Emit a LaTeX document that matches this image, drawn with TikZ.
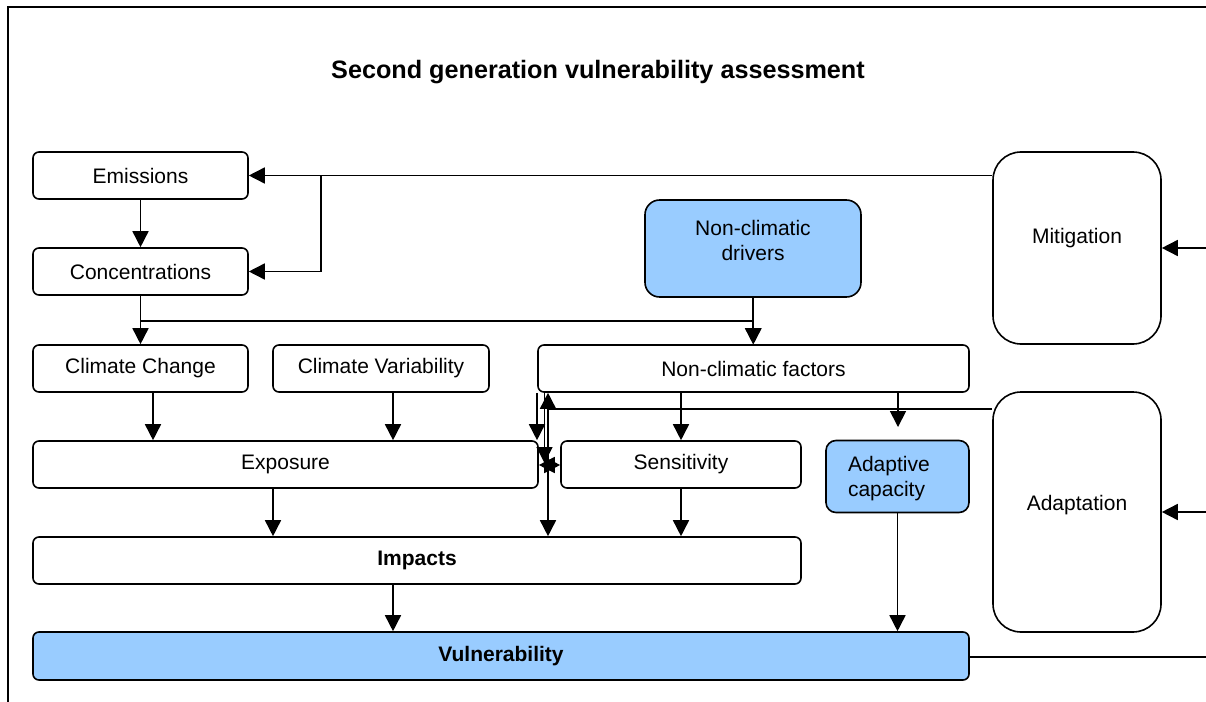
\documentclass[tikz,border=0pt]{standalone}
\usepackage{fontspec}
\setmainfont{Liberation Sans}
\usetikzlibrary{arrows.meta,calc}
\definecolor{lb}{RGB}{153,204,255}
\tikzset{
 box/.style={draw, line width=1.2pt, rounded corners=4.5pt, inner sep=0pt, font=\fontsize{15.75}{19}\selectfont, align=center},
 bluebox/.style={box, fill=lb},
 bigbox/.style={box, rounded corners=21pt},
 arr/.style={line width=1.2pt, -{Triangle[length=12pt,width=12pt]}},
 ln/.style={line width=1.2pt},
 txt/.style={font=\fontsize{15.75}{19}\selectfont, align=center, inner sep=0pt},
}
\begin{document}
\begin{tikzpicture}[x=0.75pt,y=-0.75pt]
\useasboundingbox (0,0) rectangle (1206,702);
\coordinate (fbl) at (8,702); \coordinate (ftl) at (8,7); \coordinate (ftr) at (1206,7);
\draw[ln] (fbl) -- (ftl) -- (ftr);
\node[font=\fontsize{18.9}{22}\selectfont\bfseries, inner sep=0pt] (title) at (598,72) {Second generation vulnerability assessment};

\node[box, minimum width=161.25pt, minimum height=35.25pt] (emi) at (140.5,175.5) {Emissions};
\node[box, minimum width=161.25pt, minimum height=35.25pt] (con) at (140.5,271.5) {Concentrations};
\node[box, minimum width=161.25pt, minimum height=35.25pt] (cc) at (140.5,368.5) {Climate Change};
\node[box, minimum width=162pt, minimum height=35.25pt] (cv) at (381,368.5) {Climate Variability};
\node[box, minimum width=323.25pt, minimum height=35.25pt] (ncf) at (753.5,368.5) {Non-climatic factors};
\node[bluebox, rounded corners=11pt, minimum width=162pt, minimum height=72.75pt] (ncd) at (753,248.5) {};
\node[txt] (ncdt) at ([yshift=6pt]ncd.center) {Non-climatic\\drivers};
\node[box, minimum width=378.75pt, minimum height=35.25pt] (exp) at (285.5,464.5) {Exposure};
\node[box, minimum width=180pt, minimum height=35.25pt] (sen) at (681,464.5) {Sensitivity};
\node[bluebox, rounded corners=7.5pt, minimum width=107.25pt, minimum height=54pt] (adc) at (897.5,476.5) {};
\node[txt, text width=74.25pt, align=left] (adct) at ([yshift=-1.5pt]adc.center) {Adaptive\\capacity};
\node[box, minimum width=576pt, minimum height=35.25pt, font=\fontsize{15.75}{19}\selectfont\bfseries] (imp) at (417,560.5) {Impacts};
\node[bluebox, minimum width=702pt, minimum height=36pt, font=\fontsize{15.75}{19}\selectfont\bfseries] (vul) at (501,656) {Vulnerability};
\node[bigbox, minimum width=126pt, minimum height=144pt] (mit) at (1077,248) {};
\node[txt] (mitt) at ([yshift=7.5pt]mit.center) {Mitigation};
\node[bigbox, minimum width=126pt, minimum height=180pt] (ada) at (1077,512) {};
\node[txt] (adat) at ([yshift=5pt]ada.center) {Adaptation};

% top part
\coordinate (b) at (321,175.5);
\draw[arr] (mit.west |- emi.east) -- (emi.east);
\draw[arr] (b) |- (con.east);
\draw[arr] (emi) -- (con);
\coordinate (j1) at (140.5,321);
\draw[arr] (con.south) -- (cc.north);
\draw[arr] (j1) -| (ncf.north);
\draw[arr] (ncd.south) -- (ncd.south |- ncf.north);

% x positions
\coordinate (xa) at (153,0);
\coordinate (xb) at (393,0);
\coordinate (xc) at (273,0);
\coordinate (xd) at (681,0);
\coordinate (xe) at (898,0);
\coordinate (xf) at (537,0);
\coordinate (k) at (548,409);
\coordinate (q) at (548,465);
\coordinate (q2) at (544.5,463);

\draw[arr] (cc.south -| xa) -- (exp.north -| xa);
\draw[arr] (cv.south -| xb) -- (exp.north -| xb);
\draw[arr] (ncf.south -| xf) -- (exp.north -| xf);
\draw[arr] (ncf.south -| xd) -- (sen.north -| xd);
\draw[arr, shorten >=9.5pt] (ncf.south -| xe) -- (adc.north -| xe);

\draw[ln] (ada.west |- k) -- (k);
\draw[arr] (k) -- (ncf.south -| k);
\draw[arr] (k) -- (imp.north -| k);
\draw[arr] (ncf.south -| q2) -- (q2);
\draw[arr] (q) -- (exp.east |- q);
\draw[arr] (q) -- (sen.west |- q);

\draw[arr] (exp.south -| xc) -- (imp.north -| xc);
\draw[arr] (sen.south) -- (imp.north -| sen.south);
\draw[arr] (imp.south -| xb) -- (vul.north -| xb);
\draw[arr] (adc.south) -- (vul.north -| adc.south);

% right side
\coordinate (rm) at (1206,248);
\coordinate (ra) at (1206,512);
\coordinate (rv) at (1206,657);
\draw[arr] (rm) -- (mit.east |- rm);
\draw[arr] (ra) -- (ada.east |- ra);
\draw[ln] (vul.east |- rv) -- (rv);
\end{tikzpicture}
\end{document}
